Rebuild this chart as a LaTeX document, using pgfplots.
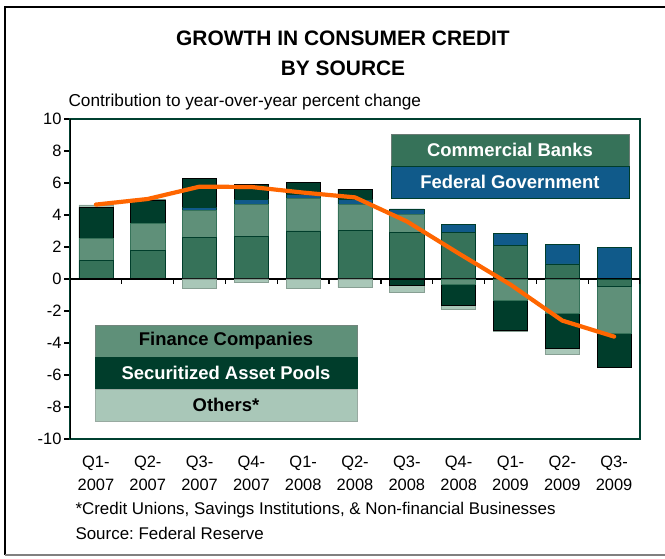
\documentclass[border=0pt]{standalone}
\usepackage{pgfplots}
\pgfplotsset{compat=1.18}
\usepackage{fontspec}
\setmainfont{Liberation Sans}
\frenchspacing

\definecolor{cbank}{HTML}{367259}
\definecolor{fedgov}{HTML}{105A8A}
\definecolor{finco}{HTML}{5F9079}
\definecolor{secpool}{HTML}{003D2B}
\definecolor{others}{HTML}{A9C7B8}
\definecolor{framegreen}{HTML}{004030}
\definecolor{trend}{HTML}{FF6600}

\pgfplotsset{
  panel/.style={
    at={(70bp,120bp)}, anchor=south west,
    scale only axis, width=570bp, height=320bp,
    xmin=-0.5, xmax=10.5, ymin=-10, ymax=10,
  },
}

\begin{document}
\begin{tikzpicture}[x=1bp,y=1bp]
\useasboundingbox (0,0) rectangle (665,559);
% outer frame
\draw[black, line width=2.2bp] (665,552) -- (5,552) -- (5,4);
\draw[gray, line width=1.5bp] (5,4) -- (665,4);

\node[font=\fontsize{21}{30}\selectfont\bfseries, align=center] at (343,506)
  {GROWTH IN CONSUMER CREDIT\\BY SOURCE};
\node[anchor=west, font=\fontsize{17.3}{20}\selectfont] at (65,457)
  {Contribution to year-over-year percent change};

% positive contributions, stacked upward
\begin{axis}[
  panel,
  ybar stacked, bar width=0.66,
  axis line style={draw=framegreen, line width=1.3bp},
  ytick={-10,-8,...,10},
  yticklabels={-10,-8,-6,-4,-2,0,2,4,6,8,10},
  ytick pos=left, tick align=outside,
  major tick length=6bp,
  y tick style={black, line width=1.3bp},
  y tick label style={font=\fontsize{16.5}{18}\selectfont, xshift=1bp},
  xtick={0,...,10},
  x tick style={draw=none},
  xticklabels={{Q1-\\2007},{Q2-\\2007},{Q3-\\2007},{Q4-\\2007},{Q1-\\2008},{Q2-\\2008},{Q3-\\2008},{Q4-\\2008},{Q1-\\2009},{Q2-\\2009},{Q3-\\2009}},
  x tick label style={align=center, font=\fontsize{16.5}{22.5}\selectfont, yshift=-8bp},
  every axis plot/.append style={line width=0.5bp},
]
\addplot[fill=cbank, draw=secpool] coordinates {
  (0,1.15) (1,1.81) (2,2.58) (3,2.65) (4,3.00) (5,3.06)
  (6,2.90) (7,2.92) (8,2.12) (9,0.94) (10,0)};
\addplot[fill=finco, draw=cbank] coordinates {
  (0,1.40) (1,1.67) (2,1.73) (3,2.02) (4,2.04) (5,1.60)
  (6,1.15) (7,0) (8,0) (9,0) (10,0)};
\addplot[fill=fedgov, draw=secpool] coordinates {
  (0,0) (1,0) (2,0.17) (3,0.31) (4,0.27) (5,0.31)
  (6,0.33) (7,0.50) (8,0.73) (9,1.23) (10,1.98)};
\addplot[fill=secpool, draw=black] coordinates {
  (0,1.93) (1,1.46) (2,1.81) (3,0.94) (4,0.71) (5,0.65)
  (6,0) (7,0) (8,0) (9,0) (10,0)};
\addplot[fill=others, draw=others!80!black] coordinates {
  (0,0.15) (1,0.06) (2,0) (3,0) (4,0) (5,0)
  (6,0) (7,0) (8,0) (9,0) (10,0)};
\end{axis}

% negative contributions, stacked downward
\begin{axis}[
  panel, hide axis,
  ybar stacked, bar width=0.66,
  every axis plot/.append style={line width=0.5bp},
]
\addplot[fill=cbank, draw=secpool] coordinates {
  (0,0) (1,0) (2,0) (3,0) (4,0) (5,0)
  (6,0) (7,0) (8,0) (9,0) (10,-0.44)};
\addplot[fill=finco, draw=cbank] coordinates {
  (0,0) (1,0) (2,0) (3,0) (4,0) (5,0)
  (6,0) (7,-0.30) (8,-1.31) (9,-2.15) (10,-2.92)};
\addplot[fill=secpool, draw=black] coordinates {
  (0,0) (1,0) (2,0) (3,0) (4,0) (5,0)
  (6,-0.37) (7,-1.36) (8,-1.88) (9,-2.15) (10,-2.17)};
\addplot[fill=others, draw=others!80!black] coordinates {
  (0,0) (1,0) (2,-0.58) (3,-0.21) (4,-0.58) (5,-0.54)
  (6,-0.48) (7,-0.20) (8,-0.10) (9,-0.42) (10,0)};
% zero line with category ticks, black left axis
\draw[black, line width=1.6bp] (axis cs:-0.5,0) -- (axis cs:10.5,0);
\pgfplotsinvokeforeach{0.5,1.5,2.5,3.5,4.5,5.5,6.5,7.5,8.5,9.5,10.5}{
  \draw[black, line width=1.3bp] (axis cs:#1,0) -- (axis cs:#1,-0.32);
}
\draw[black, line width=1.8bp] (rel axis cs:0,0) -- (rel axis cs:0,1);
\end{axis}

% total growth line
\begin{axis}[panel, hide axis]
\addplot[trend, line width=4.2bp, no marks, line join=round, line cap=round] coordinates {
  (0,4.65) (1,5.00) (2,5.77) (3,5.75) (4,5.40) (5,5.10)
  (6,3.60) (7,1.60) (8,-0.35) (9,-2.60) (10,-3.60)};
\end{axis}

% legend boxes
\begin{scope}[font=\fontsize{18.5}{21}\selectfont\bfseries, line width=0.6bp]
\draw[fill=cbank, draw=gray!70!cbank] (391,393) rectangle (629,425);
\node[white] at (510,409) {Commercial Banks};
\draw[fill=fedgov, draw=secpool] (391,361) rectangle (629,393);
\node[white] at (510,377) {Federal Government};

\draw[fill=finco, draw=gray!60!finco] (95,202) rectangle (357,234);
\node[black] at (226,218) {Finance Companies};
\draw[fill=secpool, draw=secpool] (95,170) rectangle (357,202);
\node[white] at (226,186) {Securitized Asset Pools};
\draw[fill=others, draw=gray!40!others] (95,138) rectangle (357,170);
\node[black] at (226,154) {Others*};
\end{scope}

% notes
\node[anchor=west, font=\fontsize{17}{20}\selectfont] at (72,49)
  {*Credit Unions, Savings Institutions, \& Non-financial Businesses};
\node[anchor=west, font=\fontsize{17}{20}\selectfont] at (72,26)
  {Source: Federal Reserve};
\end{tikzpicture}
\end{document}
